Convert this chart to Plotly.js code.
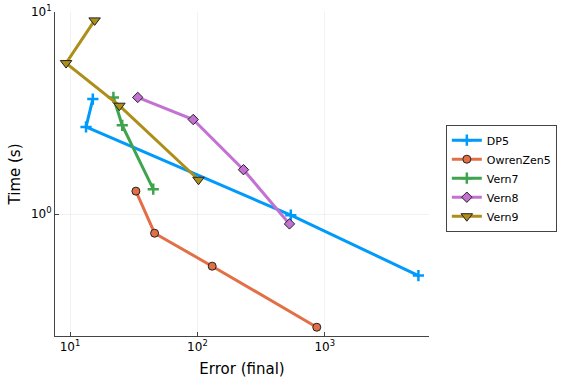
<!DOCTYPE html>
<html><head><meta charset="utf-8">
<script src="https://cdn.plot.ly/plotly-3.0.1.min.js"></script>
<style>html,body{margin:0;padding:0;background:#fff}#c{width:576px;height:384px}</style>
</head><body><div id="c"></div>
<script>
const names = ["DP5","OwrenZen5","Vern7","Vern8","Vern9"];
const colors = ["#009AFA","#E36F47","#3EA44E","#C371D2","#AC8E18"];
const dp5_err = [15.1, 13.35, 541, 5430];
const dp5_time = [3.71, 2.70, 0.989, 0.497];
const oz5_err = [32.9, 46.1, 130.6, 865];
const oz5_time = [1.30, 0.805, 0.553, 0.276];
const v7_err = [21.9, 25.7, 45.0];
const v7_time = [3.78, 2.75, 1.33];
const v8_err = [34.0, 92.7, 230, 528];
const v8_time = [3.78, 2.94, 1.66, 0.895];
const v9_err = [15.6, 9.31, 24.4, 102];
const v9_time = [9.09, 5.59, 3.44, 1.48];
const xTickVals = [10, 100, 1000];
const xTickText = ["10<sup>1</sup>","10<sup>2</sup>","10<sup>3</sup>"];
const yTickVals = [1, 10];
const yTickText = ["10<sup>0</sup>","10<sup>1</sup>"];

const errs = [dp5_err, oz5_err, v7_err, v8_err, v9_err];
const times = [dp5_time, oz5_time, v7_time, v8_time, v9_time];
const symbols = ["cross-thin","circle","cross-thin","diamond","triangle-down"];
const traces = names.map((n,i)=>{
  const thin = symbols[i]==="cross-thin";
  return {
    x: errs[i], y: times[i], name: n, type: "scatter", mode: "lines+markers",
    line: {color: colors[i], width: 3},
    marker: {symbol: symbols[i], size: thin ? 8 : (symbols[i]==="triangle-down"?10:8), color: colors[i],
      line: {color: thin ? colors[i] : "#222", width: thin ? 2.5 : 1}}
  };
});
const layout = {
  width: 576, height: 384,
  margin: {l: 55, r: 147, t: 12, b: 48},
  paper_bgcolor: "#fff", plot_bgcolor: "#fff",
  font: {family: "DejaVu Sans, sans-serif", color: "#000"},
  xaxis: {type: "log", range: [0.882, 3.818], tickvals: xTickVals, ticktext: xTickText,
    showgrid: true, gridcolor: "rgba(0,0,0,0.1)", gridwidth: 0.5, zeroline: false,
    showline: true, linecolor: "#444", linewidth: 1, mirror: false,
    ticks: "inside", ticklen: 4, tickcolor: "#444", tickfont: {size: 12},
    title: {text: "Error (final)", font: {size: 15}, standoff: 10}},
  yaxis: {type: "log", range: [-0.6025, 1.0], tickvals: yTickVals, ticktext: yTickText,
    showgrid: true, gridcolor: "rgba(0,0,0,0.1)", gridwidth: 0.5, zeroline: false,
    showline: true, linecolor: "#444", linewidth: 1, mirror: false,
    ticks: "inside", ticklen: 4, tickcolor: "#444", tickfont: {size: 12},
    title: {text: "Time (s)", font: {size: 15}, standoff: 6}},
  showlegend: true,
  legend: {x: 1.045, y: 0.487, xanchor: "left", yanchor: "middle",
    bordercolor: "#444", borderwidth: 1, bgcolor: "#fff",
    font: {size: 11}, tracegroupgap: 0, itemwidth: 30}
};
Plotly.newPlot("c", traces, layout, {staticPlot: true});
</script></body></html>
